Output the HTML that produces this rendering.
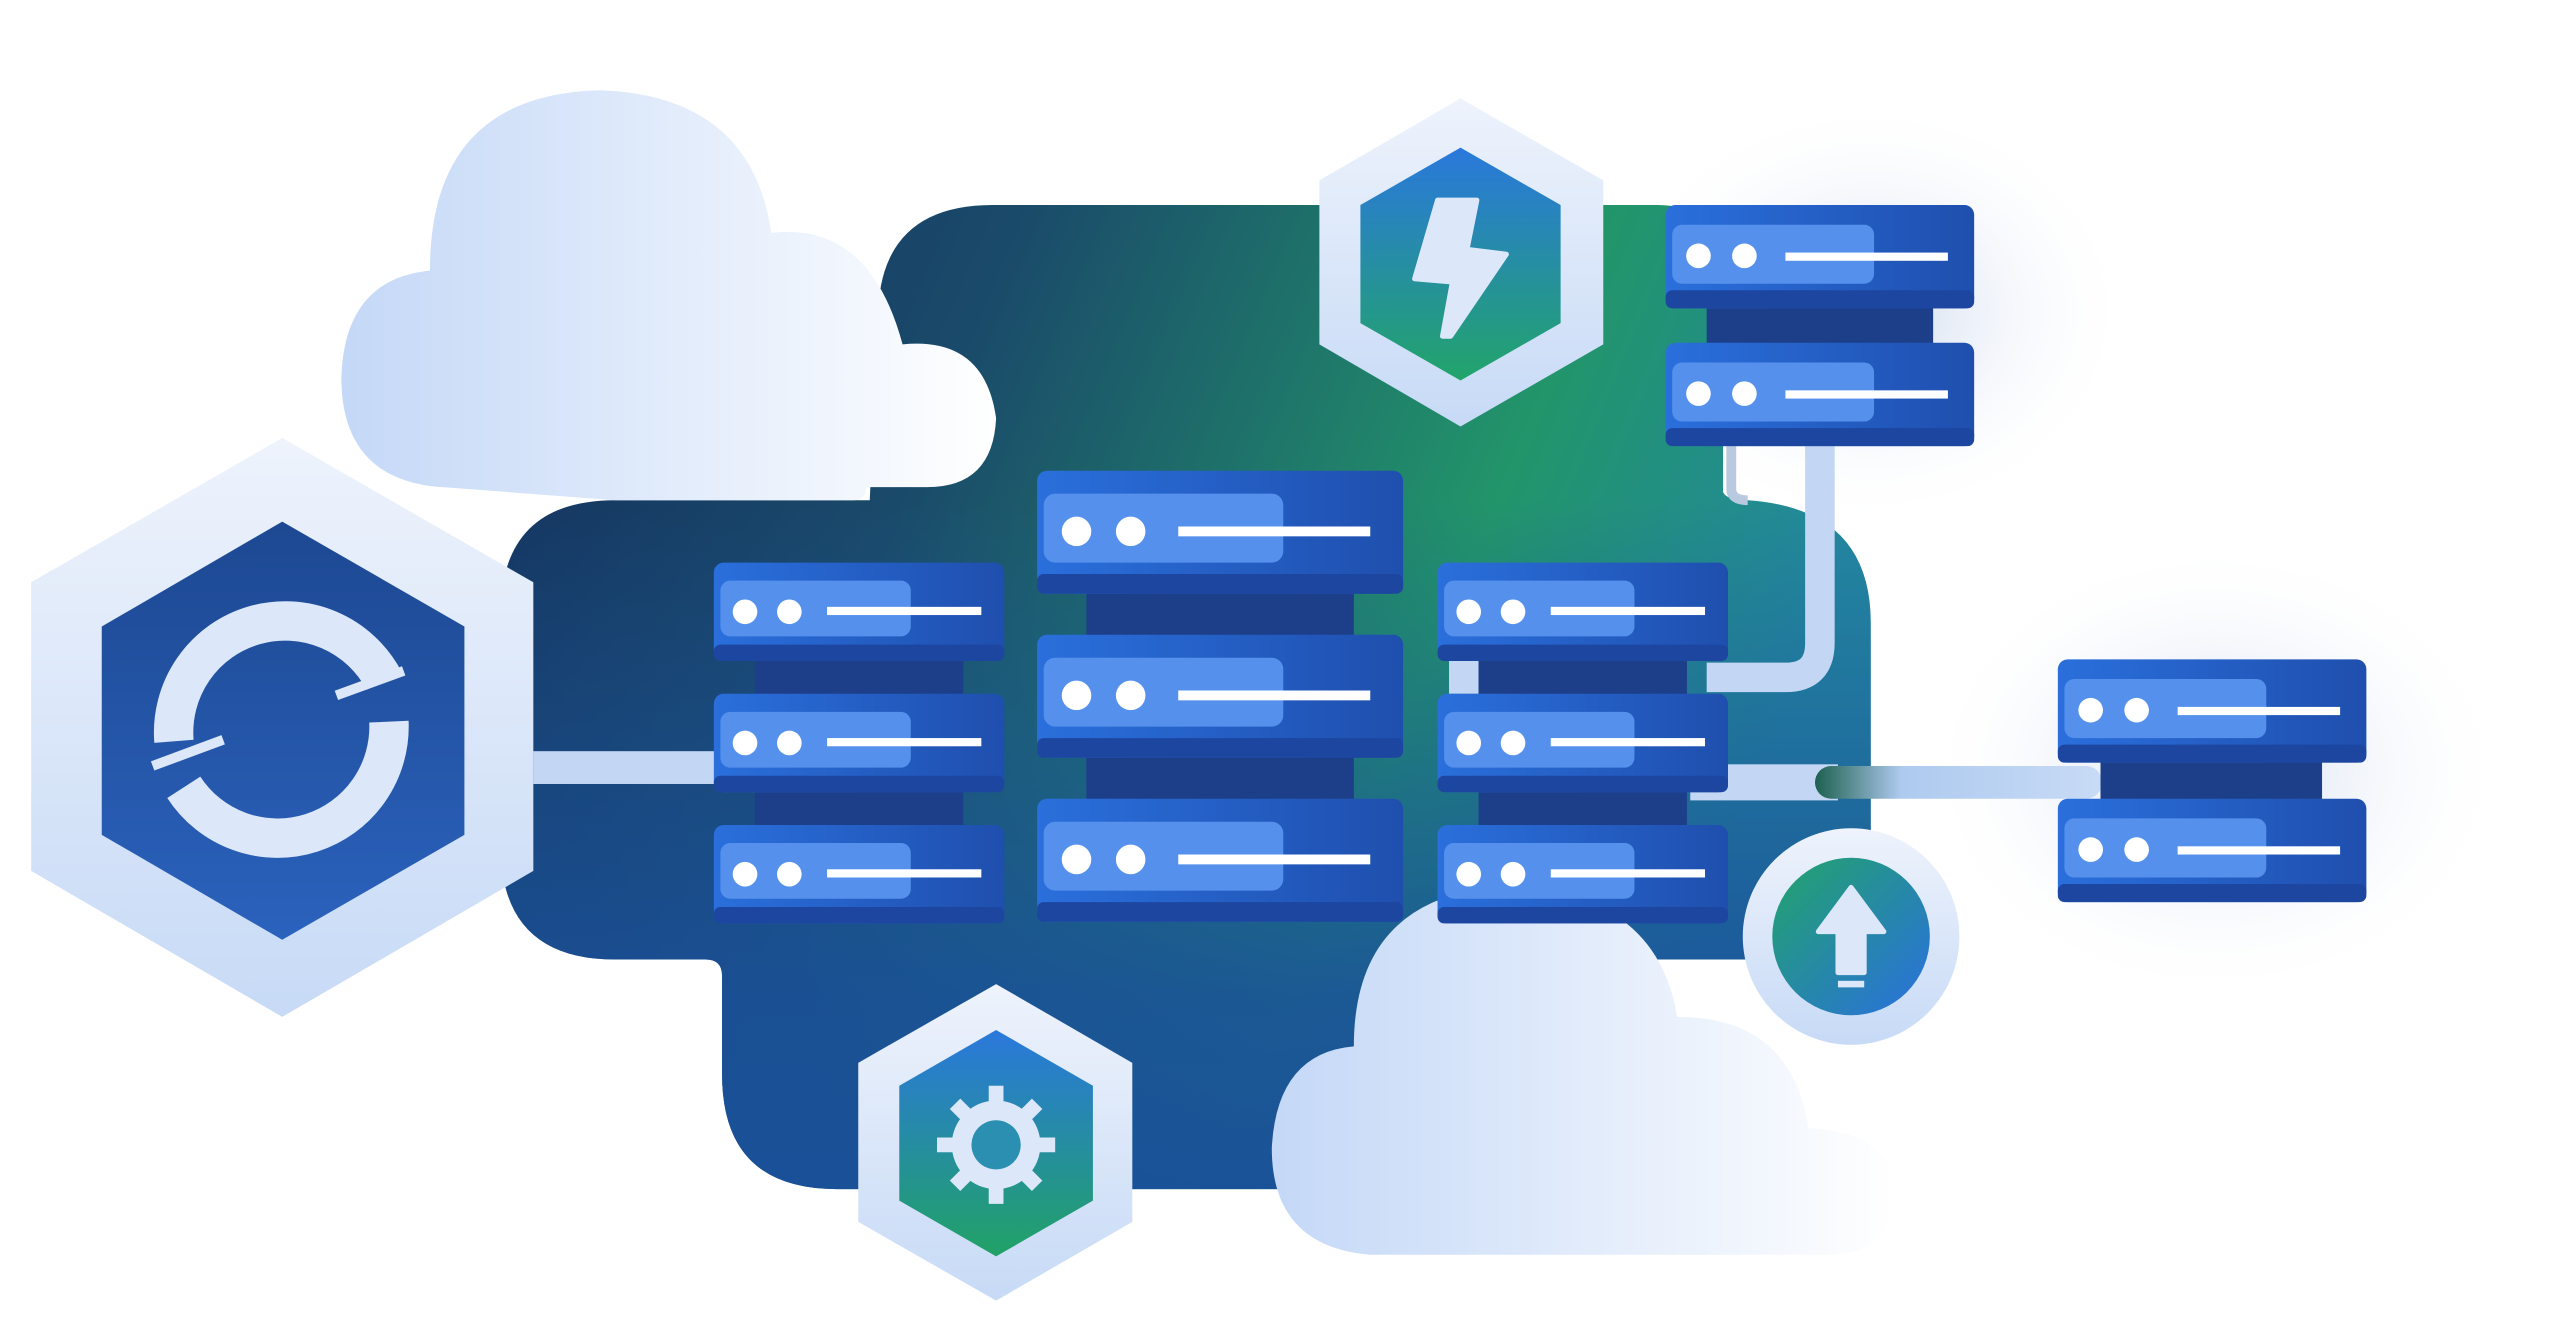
<!DOCTYPE html>
<html><head><meta charset="utf-8"><style>html,body{margin:0;padding:0;background:#fff}svg{display:block}</style></head><body>
<svg width="2560" height="1340" viewBox="0 0 1560 817" preserveAspectRatio="none" xmlns="http://www.w3.org/2000/svg">
<defs>
<linearGradient id="bg" x1="0" y1="0" x2="1" y2="0.3">
<stop offset="0" stop-color="#13305e"/><stop offset="0.35" stop-color="#1a4a6a"/><stop offset="0.75" stop-color="#22956a"/><stop offset="1" stop-color="#2388a0"/></linearGradient>
<linearGradient id="bg2" x1="0" y1="0" x2="0" y2="1">
<stop offset="0.3" stop-color="#1a4f9a" stop-opacity="0"/><stop offset="0.8" stop-color="#1a4f9a" stop-opacity="0.85"/><stop offset="1" stop-color="#1a4f9a" stop-opacity="0.95"/></linearGradient>
<linearGradient id="cloud" x1="0" y1="0" x2="1" y2="0">
<stop offset="0" stop-color="#c4d8f7"/><stop offset="1" stop-color="#ffffff"/></linearGradient>
<linearGradient id="hexo" x1="0" y1="0" x2="0" y2="1">
<stop offset="0" stop-color="#eef3fc"/><stop offset="1" stop-color="#c7daf6"/></linearGradient>
<linearGradient id="hexb" x1="0" y1="0" x2="0" y2="1">
<stop offset="0" stop-color="#1d4892"/><stop offset="1" stop-color="#2b62bd"/></linearGradient>
<linearGradient id="hexg" x1="0" y1="0" x2="0" y2="1">
<stop offset="0" stop-color="#2a78dc"/><stop offset="1" stop-color="#22a46a"/></linearGradient>
<linearGradient id="hexg2" x1="0" y1="0" x2="0" y2="1">
<stop offset="0" stop-color="#2a78dc"/><stop offset="1" stop-color="#21a266"/></linearGradient>
<linearGradient id="up" x1="0" y1="0" x2="1" y2="1">
<stop offset="0" stop-color="#22a46a"/><stop offset="1" stop-color="#2a6fe0"/></linearGradient>
<linearGradient id="srv" x1="0" y1="0" x2="1" y2="0">
<stop offset="0" stop-color="#2a6fdc"/><stop offset="1" stop-color="#1f4fae"/></linearGradient>
<linearGradient id="pipe" x1="0" y1="0" x2="1" y2="0">
<stop offset="0" stop-color="#1e6050"/><stop offset="0.3" stop-color="#aecaef"/><stop offset="1" stop-color="#c8dbf6"/></linearGradient>
<radialGradient id="glow"><stop offset="0" stop-color="#9fb6de" stop-opacity="0.5"/><stop offset="1" stop-color="#fff" stop-opacity="0"/></radialGradient>
<g id="s1">
<rect x="0" y="0" width="177" height="60" rx="6" fill="url(#srv)"/>
<rect x="0" y="50" width="177" height="10" rx="4" fill="#1c46a0"/>
<rect x="4" y="11" width="116" height="34" rx="6" fill="#5591ec"/>
<circle cx="19" cy="30" r="7.5" fill="#fff"/><circle cx="46" cy="30" r="7.5" fill="#fff"/>
<rect x="69" y="27" width="94" height="5" fill="#fff"/>
</g>
<g id="s2">
<rect x="0" y="0" width="223" height="75" rx="6" fill="url(#srv)"/>
<rect x="0" y="63" width="223" height="12" rx="4" fill="#1c46a0"/>
<rect x="4" y="14" width="146" height="42" rx="7" fill="#5591ec"/>
<circle cx="24" cy="37" r="9" fill="#fff"/><circle cx="57" cy="37" r="9" fill="#fff"/>
<rect x="86" y="34" width="117" height="6" fill="#fff"/>
</g>
<g id="s3">
<rect x="0" y="0" width="188" height="63" rx="6" fill="url(#srv)"/>
<rect x="0" y="52" width="188" height="11" rx="4" fill="#1c46a0"/>
<rect x="4" y="12" width="123" height="36" rx="6" fill="#5591ec"/>
<circle cx="20" cy="31" r="7.5" fill="#fff"/><circle cx="48" cy="31" r="7.5" fill="#fff"/>
<rect x="73" y="29" width="99" height="5" fill="#fff"/>
</g>
</defs>
<ellipse cx="1140" cy="190" rx="160" ry="130" fill="url(#glow)"/>
<ellipse cx="1350" cy="470" rx="180" ry="140" fill="url(#glow)"/>
<!-- background blob -->
<path id="blob" d="M605,125 L1010,125 Q1050,125 1050,170 L1050,300 Q1052,305 1065,305 Q1140,310 1140,380 L1140,585 L1000,585 L1000,725 L510,725 Q440,725 440,655 L440,595 Q440,585 430,585 L375,585 Q305,585 305,515 L305,375 Q305,305 375,305 L530,305 L535,195 Q535,125 605,125 Z" fill="url(#bg)"/>
<path d="M605,125 L1010,125 Q1050,125 1050,170 L1050,300 Q1052,305 1065,305 Q1140,310 1140,380 L1140,585 L1000,585 L1000,725 L510,725 Q440,725 440,655 L440,595 Q440,585 430,585 L375,585 Q305,585 305,515 L305,375 Q305,305 375,305 L530,305 L535,195 Q535,125 605,125 Z" fill="url(#bg2)"/>
<!-- cloud 1 -->
<path d="M268,297 Q208,292 208,230 Q210,170 262,165 Q262,58 365,55 Q458,58 470,142 Q530,135 550,210 Q600,205 607,255 Q605,297 565,297 L528,297 Q528,305 520,305 L375,305 L270,297 Z" fill="url(#cloud)"/>
<!-- cloud 2 -->
<path d="M835,765 Q775,760 775,700 Q778,642 825,638 Q825,545 920,540 Q1010,545 1022,620 Q1092,620 1102,688 Q1155,690 1155,728 Q1152,765 1115,765 Z" fill="url(#cloud)"/>
<!-- connectors -->
<rect x="325" y="458" width="112" height="20" fill="#c3d6f3"/>
<path d="M1109,272 L1109,392 Q1109,413 1088,413 L1040,413" stroke="#c3d6f3" stroke-width="18" fill="none"/>
<path d="M1055,272 L1055,298 Q1055,305 1065,305" stroke="#b8c9e0" stroke-width="6" fill="none"/>
<rect x="1030" y="466" width="90" height="22" fill="#c3d6f3"/>
<rect x="1106" y="467" width="175" height="20" rx="10" fill="url(#pipe)"/>
<rect x="883" y="403" width="18" height="20" fill="#c3d6f3"/>
<!-- column connectors -->
<rect x="460" y="400" width="127" height="160" fill="#1d3f8a"/>
<rect x="662" y="360" width="163" height="200" fill="#1d3f8a"/>
<rect x="901" y="400" width="127" height="160" fill="#1d3f8a"/>
<rect x="1040" y="185" width="138" height="28" fill="#1d3f8a"/>
<rect x="1280" y="462" width="135" height="30" fill="#1d3f8a"/>
<!-- servers -->
<use href="#s1" x="435" y="343"/><use href="#s1" x="435" y="423"/><use href="#s1" x="435" y="503"/>
<use href="#s2" x="632" y="287"/><use href="#s2" x="632" y="387"/><use href="#s2" x="632" y="487"/>
<use href="#s1" x="876" y="343"/><use href="#s1" x="876" y="423"/><use href="#s1" x="876" y="503"/>
<use href="#s3" x="1015" y="125"/><use href="#s3" x="1015" y="209"/>
<use href="#s3" x="1254" y="402"/><use href="#s3" x="1254" y="487"/>
<!-- big hex -->
<polygon points="172,267 325,355 325,531 172,620 19,531 19,355" fill="url(#hexo)"/>
<polygon points="172,318 283,382 283,509 172,573 62,509 62,382" fill="url(#hexb)"/>
<g fill="none" stroke="#dce8fa" stroke-width="24">
<path d="M106,452 A68,68 0 0 1 234,415"/>
<path d="M237,440 A68,68 0 0 1 112,480"/>
</g>
<g stroke="#dce8fa" stroke-width="6"><line x1="205" y1="424" x2="246" y2="409"/><line x1="93" y1="467" x2="136" y2="451"/></g>
<!-- lightning hex -->
<polygon points="890,60 977,110 977,210 890,260 804,210 804,110" fill="url(#hexo)"/>
<polygon points="890,90 951,125 951,197 890,232 829,197 829,125" fill="url(#hexg)"/>
<path d="M876,122 L900,122 L894,152 L918,155 L884,205 L879,205 L885,172 L862,170 Z" fill="#dce8fa" stroke="#dce8fa" stroke-width="3" stroke-linejoin="round"/>
<!-- gear hex -->
<polygon points="607,600 690,648 690,745 607,793 523,745 523,648" fill="url(#hexo)"/>
<polygon points="607,628 666,662 666,732 607,766 548,732 548,662" fill="url(#hexg2)"/>
<circle cx="607" cy="698" r="27" fill="#dce8fa"/>
<g stroke="#dce8fa" stroke-width="9"><line x1="607" y1="662" x2="607" y2="734"/><line x1="571" y1="698" x2="643" y2="698"/><line x1="582" y1="673" x2="632" y2="723"/><line x1="632" y1="673" x2="582" y2="723"/></g>
<circle cx="607" cy="698" r="15" fill="#2a8fb0"/>
<!-- upload circle -->
<circle cx="1128" cy="571" r="66" fill="url(#hexo)"/>
<circle cx="1128" cy="571" r="48" fill="url(#up)"/>
<path d="M1128,541 L1148,568 L1136,568 L1136,593 L1120,593 L1120,568 L1108,568 Z" fill="#dce8fa" stroke="#dce8fa" stroke-width="3" stroke-linejoin="round"/>
<rect x="1120" y="598" width="16" height="4" fill="#dce8fa"/>
</svg>
</body></html>
